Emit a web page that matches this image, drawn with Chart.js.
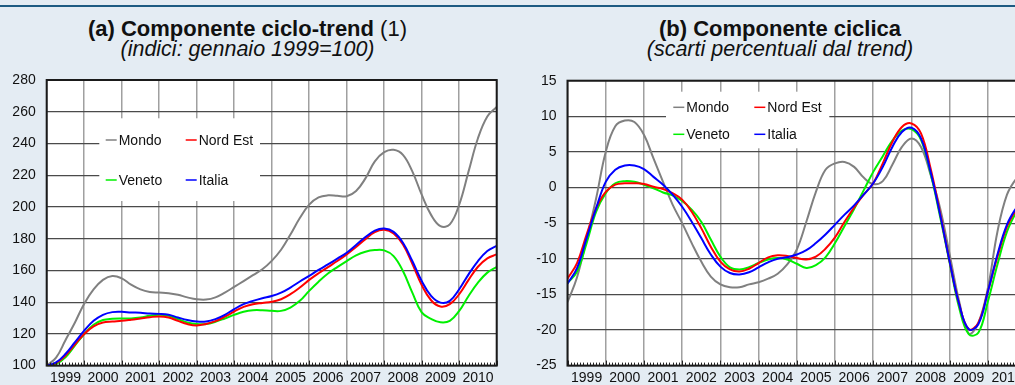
<!DOCTYPE html>
<html>
<head>
<meta charset="utf-8">
<script src="https://cdn.jsdelivr.net/npm/chart.js@4.4.1/dist/chart.umd.min.js"></script>
<style>
  html, body { margin: 0; padding: 0; }
  body {
    width: 1015px; height: 385px; overflow: hidden; position: relative;
    background: #e4ecf3; font-family: "Liberation Sans", Arial, sans-serif; color: #111;
  }
  .topline { position: absolute; left: 0; top: 5px; width: 1015px; height: 2px; background: #1d5b82; }
  .title { position: absolute; top: 19px; text-align: center; font-size: 22px; line-height: 20px; white-space: nowrap; }
  .title i { display: block; font-size: 21.5px; }
  canvas { position: absolute; top: 60px; }
</style>
</head>
<body>
<div class="topline"></div>
<div class="title" style="left:0;width:495px"><b>(a) Componente ciclo-trend</b> (1)<i>(indici: gennaio 1999=100)</i></div>
<div class="title" style="left:505px;width:550px"><b>(b) Componente ciclica</b><i>(scarti percentuali dal trend)</i></div>
<canvas id="chartA" width="505" height="325" style="left:0"></canvas>
<canvas id="chartB" width="530" height="325" style="left:505px"></canvas>
<script>
// year labels, one per year, shown in the middle of each year
const years = ['1999', '2000', '2001', '2002', '2003', '2004', '2005', '2006', '2007', '2008', '2009', '2010'];
const seriesNames = ['Mondo', 'Nord Est', 'Veneto', 'Italia'];

// (a) ciclo-trend, quarterly readings Jan 1999 .. Jan 2011
const trendMondo = [100, 105, 116, 127, 139, 148, 154, 156.5, 155, 151, 148, 146.4,
  146, 145.6, 144.6, 143, 141.8, 141.6, 143, 146, 149.6, 153.3, 157, 160.7,
  166, 173, 182.6, 193, 201.5, 206, 207.3, 207, 206.7, 210, 218, 228.7,
  234.5, 236, 232.8, 222.4, 207.7, 195, 187.9, 189, 201.5, 222.4, 243.3, 257, 263];
const trendNordEst = [100, 101.5, 106.3, 113.2, 119.9, 124.7, 127.2, 127.8, 128.2, 128.9, 129.7, 130.5,
  131, 130.3, 128.2, 126.2, 125.3, 126.2, 128, 130.8, 134.1, 137, 138.7, 139.5,
  140.2, 141.8, 145, 149.2, 154, 158.2, 162.1, 165.9, 170.1, 174.7, 179.7, 184.1,
  185.6, 183.3, 176.4, 164.2, 150.8, 141.2, 137.2, 138.7, 145, 154, 162.3, 167.6, 170.1];
const trendVeneto = [100, 101, 105.2, 112.6, 119.9, 125.7, 128.7, 129.5, 129.7, 129.7, 130.3, 131.4,
  132, 131.4, 129.3, 127.2, 126.2, 126.2, 127.6, 129.7, 132, 133.9, 134.9, 134.9,
  134.5, 134.5, 136.6, 140.8, 147.1, 152.9, 158, 162.1, 165.9, 169.5, 171.8, 172.8,
  172.6, 169, 159.6, 146, 133.5, 129.5, 127.3, 128.2, 134.5, 143.9, 152.3, 158.6, 162.1];
const trendItalia = [100, 102, 107.3, 114.6, 122, 128.2, 132, 133.7, 133.9, 133.5, 133.3, 132.8,
  132.6, 132, 130.3, 128.7, 127.8, 127.8, 129.3, 132, 135.6, 138.7, 140.8, 142.5,
  143.9, 146, 149.2, 153, 156.5, 160.3, 163.8, 167.4, 171.1, 176, 181, 185.1,
  186.4, 184.3, 177.4, 165.9, 153.3, 143.9, 139.7, 140.8, 148.1, 157.5, 165.9, 172.2, 175.5];

// (b) componente ciclica, quarterly readings
const cicloMondo = [-16.1, -12.6, -7.2, -1.5, 5, 8.6, 9.4, 9.2, 7.4, 4.1, 0.8, -2.4,
  -5, -7.8, -10.4, -12.5, -13.6, -14, -14, -13.6, -13.3, -12.8, -12.1, -10.8,
  -8.7, -4.8, -0.6, 2.5, 3.4, 3.6, 2.9, 1.4, 0.5, 0.9, 3.2, 5.7,
  6.9, 5.7, 1.8, -2.9, -9.4, -16, -20.5, -19.0, -14.1, -6.2, -1, 1.3, 2.5];
const cicloNordEst = [-12.8, -10.6, -6.6, -2.9, -0.6, 0.4, 0.6, 0.6, 0.5, 0.1, -0.2, -0.8,
  -1.7, -3.4, -5.7, -8.3, -10.4, -11.5, -11.8, -11.4, -10.6, -9.8, -9.5, -9.6,
  -9.9, -10.1, -9.7, -8.6, -7, -4.8, -2.8, -1, 0.6, 3.4, 6.4, 8.5,
  9, 7.6, 2.7, -3.6, -10.4, -16.4, -19.9, -19, -14.6, -9.7, -5.5, -3, -1.2];
const cicloVeneto = [-13.4, -11.8, -7.8, -3.4, -0.8, 0.6, 0.9, 0.8, 0.4, -0.1, -0.7, -1.1,
  -1.9, -3.1, -4.8, -7.3, -9.7, -11.2, -11.5, -11.2, -10.6, -10.1, -9.9, -10.1,
  -10.7, -11.3, -10.9, -9.8, -7.8, -5.4, -3, -0.4, 2.2, 4.4, 6.6, 8,
  8.2, 6.7, 2, -4.1, -10.6, -16.9, -20.6, -20.4, -16, -10.8, -6.2, -3.4, -1.5];
const cicloItalia = [-13.5, -11.3, -7.1, -2.9, 0.8, 2.5, 3.1, 3.1, 2.6, 1.5, 0.4, -1,
  -2.7, -4.8, -7.1, -9.4, -11.1, -12, -12.2, -11.9, -11.2, -10.5, -10, -9.8,
  -9.4, -8.8, -7.8, -6.6, -5.2, -3.8, -2.5, -1, 0.6, 2.9, 5.7, 7.8,
  8.4, 6.9, 2.2, -3.8, -10.4, -16.4, -19.9, -19.2, -14.6, -9.4, -5.2, -2.8, -1];

const colors = { 'Mondo': '#808080', 'Nord Est': '#ff0000', 'Veneto': '#00f000', 'Italia': '#0000ff' };
const FONT = '"Liberation Sans", Arial, sans-serif';

function toPoints(values) {
  return values.map((v, i) => ({ x: 1999 + i / 4, y: v }));
}
function isYear(v) {
  return Math.abs(v - Math.round(v)) < 1e-6;
}

// legend inside the plot, on a white box that hides the grid
const boxLegend = {
  id: 'boxLegend',
  beforeDatasetsDraw(chart, args, opts) {
    const a = chart.chartArea;
    const c = chart.ctx;
    c.save();
    c.fillStyle = '#fff';
    c.fillRect(a.left + opts.box[0], a.top + opts.box[1], opts.box[2], opts.box[3]);
    c.font = '14px ' + FONT;
    c.textBaseline = 'middle';
    const layout = [['Mondo', 0, 0], ['Nord Est', 1, 0], ['Veneto', 0, 1], ['Italia', 1, 1]];
    for (const [name, col, row] of layout) {
      const x = a.left + opts.cols[col];
      const y = a.top + opts.rows[row];
      c.strokeStyle = colors[name];
      c.lineWidth = 1.5;
      c.beginPath();
      c.moveTo(x, y);
      c.lineTo(x + 11, y);
      c.stroke();
      c.fillStyle = '#111';
      c.fillText(name, x + 13, y + 1);
    }
    c.restore();
  },
  afterDatasetsDraw(chart) {
    const a = chart.chartArea;
    const c = chart.ctx;
    const xs = chart.scales.x;
    c.save();
    // monthly minor ticks pointing into the plot
    c.strokeStyle = '#222';
    c.lineWidth = 1;
    c.beginPath();
    for (const t of xs.ticks) {
      const px = Math.round(xs.getPixelForValue(t.value)) + 0.5;
      c.moveTo(px, a.bottom);
      c.lineTo(px, a.bottom - (isYear(t.value) ? 5 : 3));
    }
    c.stroke();
    // frame
    c.strokeStyle = '#1a1a1a';
    c.lineWidth = 2;
    c.strokeRect(a.left, a.top, a.right - a.left, a.bottom - a.top);
    c.restore();
  }
};

const plotBg = {
  id: 'plotBg',
  beforeDraw(chart) {
    const a = chart.chartArea;
    chart.ctx.save();
    chart.ctx.fillStyle = '#fff';
    chart.ctx.fillRect(a.left, a.top, a.right - a.left, a.bottom - a.top);
    chart.ctx.restore();
  }
};

function makeChart(id, series, yMin, yMax, yStep, yWidth, padTop, padRight, xHeight, legendOpts) {
  const order = ['Italia', 'Nord Est', 'Veneto', 'Mondo'];
  return new Chart(document.getElementById(id), {
    type: 'line',
    data: {
      datasets: order.map((name) => ({
        label: name,
        data: toPoints(series[name]),
        borderColor: colors[name],
        borderWidth: 2,
        pointRadius: 0,
        tension: 0.4,
        fill: false,
      })),
    },
    options: {
      responsive: false,
      animation: false,
      events: [],
      layout: { padding: { top: padTop, right: padRight, left: 0, bottom: 0 } },
      plugins: {
        legend: { display: false },
        tooltip: { enabled: false },
        boxLegend: legendOpts,
      },
      scales: {
        x: {
          type: 'linear',
          min: 1999,
          max: 2011,
          afterBuildTicks(scale) {
            const ticks = [];
            for (let k = 0; k <= 144; k++) ticks.push({ value: 1999 + k / 12 });
            scale.ticks = ticks;
          },
          afterFit(scale) { scale.height = xHeight; },
          border: { display: false },
          grid: {
            drawTicks: false,
            lineWidth: 1.5,
            color: (c) => (c.tick && isYear(c.tick.value) ? '#a0a0a0' : 'rgba(0,0,0,0)'),
          },
          ticks: {
            autoSkip: false,
            maxRotation: 0,
            minRotation: 0,
            padding: 4,
            color: '#111',
            font: { size: 14, family: FONT },
            callback: (v) => {
              const k = Math.round((v - 1999) * 12);
              return k % 12 === 6 ? years[(k - 6) / 12] : '';
            },
          },
        },
        y: {
          min: yMin,
          max: yMax,
          afterFit(scale) { scale.width = yWidth; },
          border: { display: false },
          grid: { drawTicks: false, color: '#4a4a4a', lineWidth: 1.2 },
          ticks: {
            stepSize: yStep,
            padding: 11,
            color: '#111',
            font: { size: 14, family: FONT },
          },
        },
      },
    },
    plugins: [plotBg, boxLegend],
  });
}

makeChart('chartA',
  { 'Mondo': trendMondo, 'Nord Est': trendNordEst, 'Veneto': trendVeneto, 'Italia': trendItalia },
  100, 280, 20, 46.7, 20, 8.3, 18.3,
  { box: [52.6, 38.3, 160.7, 82.7], cols: [59, 139], rows: [60, 100] });

makeChart('chartB',
  { 'Mondo': cicloMondo, 'Nord Est': cicloNordEst, 'Veneto': cicloVeneto, 'Italia': cicloItalia },
  -25, 15, 5, 62.5, 20.7, 8.9, 19.3,
  { box: [98.5, 11, 163.3, 56.6], cols: [105.8, 186.8], rows: [26.6, 53.6] });
</script>
</body>
</html>
